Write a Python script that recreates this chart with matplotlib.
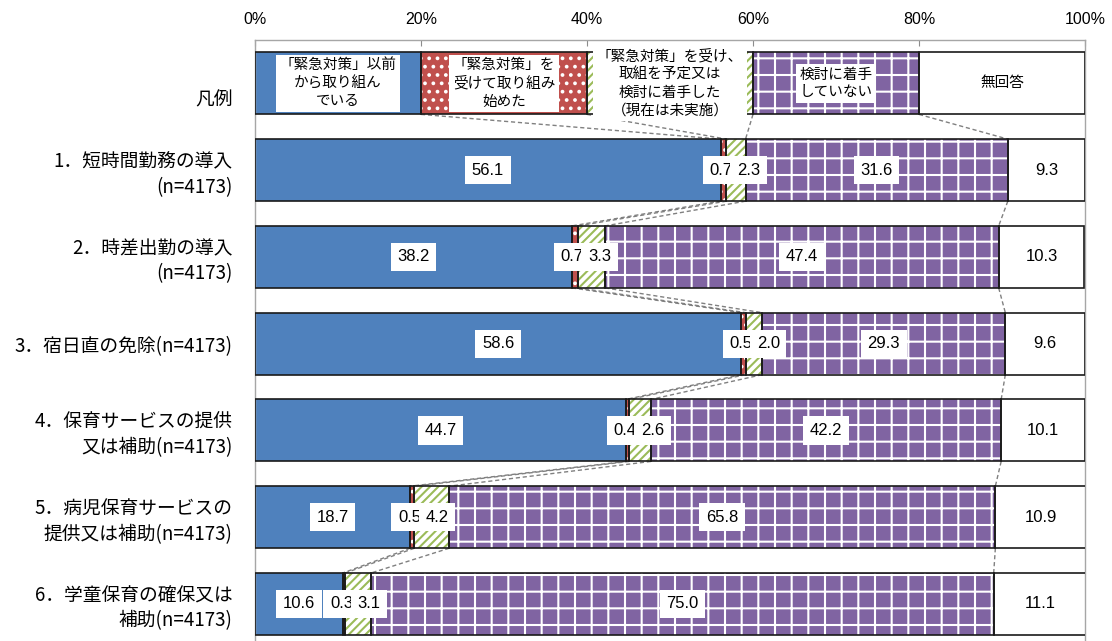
import numpy as np
import matplotlib
matplotlib.use('Agg')
import matplotlib.pyplot as plt
import matplotlib.transforms as mtransforms

# 回答区分ごとの割合 (%)
categories = ['凡例',
              '1．短時間勤務の導入\n(n=4173)',
              '2．時差出勤の導入\n(n=4173)',
              '3．宿日直の免除(n=4173)',
              '4．保育サービスの提供\n又は補助(n=4173)',
              '5．病児保育サービスの\n提供又は補助(n=4173)',
              '6．学童保育の確保又は\n補助(n=4173)']
series_names = ['「緊急対策」以前\nから取り組ん\nでいる',
                '「緊急対策」を\n受けて取り組み\n始めた',
                '「緊急対策」を受け、\n取組を予定又は\n検討に着手した\n（現在は未実施）',
                '検討に着手\nしていない',
                '無回答']
legend_share = [20, 20, 20, 20, 20]
before = [56.1, 38.2, 58.6, 44.7, 18.7, 10.6]
started = [0.7, 0.7, 0.5, 0.4, 0.5, 0.3]
planned = [2.3, 3.3, 2.0, 2.6, 4.2, 3.1]
not_yet = [31.6, 47.4, 29.3, 42.2, 65.8, 75.0]
no_answer = [9.3, 10.3, 9.6, 10.1, 10.9, 11.1]
xticks = [0, 20, 40, 60, 80, 100]

plt.rcParams['font.family'] = ['Liberation Sans', 'Noto Sans CJK JP']
plt.rcParams['hatch.linewidth'] = 1.5
JP = ['Noto Sans CJK JP', 'DejaVu Sans']

# 塗り色・ハッチ色・ハッチ
faces = ['#4F81BD', '#C0504D', 'white', '#8064A2', 'white']
hatch_colors = ['#4F81BD', 'white', '#9BBB59', 'white', 'white']
hatches = [None, '..', '////', '+', None]

bar_h = 0.715

fig = plt.figure(figsize=(11.12, 6.41), dpi=100)
ax = fig.add_axes([255 / 1112, 0, 830 / 1112, 601 / 641])

rows = [legend_share] + [list(r) for r in zip(before, started, planned, not_yet, no_answer)]
ypos = np.arange(len(rows))


def draw_row(y, vals):
    left = 0
    for v, fc, hc, h in zip(vals, faces, hatch_colors, hatches):
        ax.barh(y, v, left=left, height=bar_h, color=fc, edgecolor=hc,
                hatch=h, linewidth=0, zorder=2)
        ax.barh(y, v, left=left, height=bar_h, fill=False,
                edgecolor='#1a1a1a', linewidth=1.2, zorder=3)
        left += v


for y, vals in zip(ypos, rows):
    draw_row(y, vals)

# 区分線 (系列線)
bounds = [np.cumsum(r)[:-1] for r in rows]
for i in range(len(bounds) - 1):
    for a, b in zip(bounds[i], bounds[i + 1]):
        ax.plot([a, b], [ypos[i] + bar_h / 2, ypos[i + 1] - bar_h / 2],
                color='#808080', lw=1, ls=(0, (3, 2)), zorder=1)

# 凡例行のテキスト
leg_box = dict(boxstyle='square,pad=0.25', facecolor='white', edgecolor='none')
centers = np.cumsum(legend_share) - np.array(legend_share) / 2
for cx, name in zip(centers, series_names):
    ax.text(cx, ypos[0], name, ha='center', va='center', fontsize=10.5,
            family=JP, linespacing=1.35, bbox=leg_box, zorder=4)

# 数値ラベル
box = dict(boxstyle='square,pad=0.4', facecolor='white', edgecolor='none')
for y, vals in zip(ypos[1:], rows[1:]):
    vals = np.array(vals)
    starts = np.cumsum(vals) - vals
    for k in (0, 3, 4):
        ax.text(starts[k] + vals[k] / 2, y, f'{vals[k]:.1f}', ha='center',
                va='center', fontsize=12, bbox=box, zorder=4)
    rc = starts[1] + vals[1] / 2
    ax.annotate(f'{vals[1]:.1f}', (rc, y), xytext=(-2, 0), textcoords='offset points',
                ha='center', va='center', fontsize=12, bbox=box, zorder=4)
    ax.annotate(f'{vals[2]:.1f}', (rc, y), xytext=(9.5, 0), textcoords='offset points',
                ha='left', va='center', fontsize=12, bbox=box, zorder=5)

ax.set_xlim(0, 100)
ax.set_ylim(6.427, -0.5)

ax.xaxis.tick_top()
ax.set_xticks(xticks)
ax.set_xticklabels([f'{t}%' for t in xticks])
ax.tick_params(axis='x', direction='in', length=4, pad=9, color='#8c8c8c', labelsize=11.5)

ax.set_yticks(ypos)
ax.set_yticklabels(categories, fontsize=13.5, family=JP, linespacing=1.25)
ax.tick_params(axis='y', length=0, pad=16)
lbl = ax.get_yticklabels()[0]
lbl.set_transform(lbl.get_transform() +
                  mtransforms.ScaledTranslation(0, -10 / 72, fig.dpi_scale_trans))

for side in ('top', 'left', 'right'):
    ax.spines[side].set_color('#a6a6a6')
    ax.spines[side].set_linewidth(1)
ax.spines['bottom'].set_visible(False)

fig.savefig('out.png', dpi=100)
